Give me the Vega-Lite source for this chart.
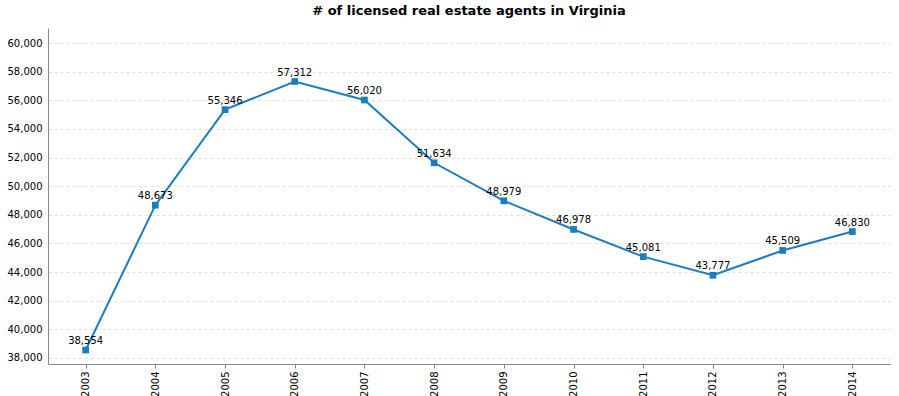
{
  "$schema": "https://vega.github.io/schema/vega-lite/v6.json",
  "width": 842,
  "height": 336,
  "autosize": {"type": "none"},
  "padding": {"left": 48, "top": 28, "right": 9, "bottom": 32},
  "background": "white",
  "title": {
    "text": "# of licensed real estate agents in Virginia",
    "font": "DejaVu Sans",
    "fontSize": 13,
    "fontWeight": "bold",
    "color": "#000000",
    "anchor": "middle",
    "offset": 10
  },
  "config": {
    "view": {"stroke": null},
    "axis": {
      "labelFont": "DejaVu Sans",
      "labelFontSize": 10,
      "labelColor": "#000000",
      "domainColor": "#888888",
      "tickColor": "#888888",
      "gridColor": "#dddddd",
      "gridDash": [3, 3],
      "title": null
    }
  },
  "data": {
    "values": [
      {"year": "2003", "agents": 38554},
      {"year": "2004", "agents": 48673},
      {"year": "2005", "agents": 55346},
      {"year": "2006", "agents": 57312},
      {"year": "2007", "agents": 56020},
      {"year": "2008", "agents": 51634},
      {"year": "2009", "agents": 48979},
      {"year": "2010", "agents": 46978},
      {"year": "2011", "agents": 45081},
      {"year": "2012", "agents": 43777},
      {"year": "2013", "agents": 45509},
      {"year": "2014", "agents": 46830}
    ]
  },
  "encoding": {
    "x": {
      "field": "year",
      "type": "ordinal",
      "scale": {"type": "point", "padding": 0.54},
      "axis": {"labelAngle": -90, "labelAlign": "right", "labelBaseline": "middle", "grid": false, "tickSize": 4, "labelPadding": 3}
    },
    "y": {
      "field": "agents",
      "type": "quantitative",
      "scale": {"domain": [37580, 61050], "nice": false, "zero": false},
      "axis": {"values": [38000, 40000, 42000, 44000, 46000, 48000, 50000, 52000, 54000, 56000, 58000, 60000], "format": ",d", "tickSize": 0, "labelPadding": 6, "grid": true}
    }
  },
  "layer": [
    {"mark": {"type": "line", "color": "#1a7dbf", "strokeWidth": 2}},
    {"mark": {"type": "point", "shape": "square", "filled": true, "size": 45, "color": "#1a7dbf", "opacity": 1}},
    {
      "mark": {"type": "text", "dy": -9, "font": "DejaVu Sans", "fontSize": 10, "color": "#000000"},
      "encoding": {"text": {"field": "agents", "type": "quantitative", "format": ",d"}}
    }
  ]
}
